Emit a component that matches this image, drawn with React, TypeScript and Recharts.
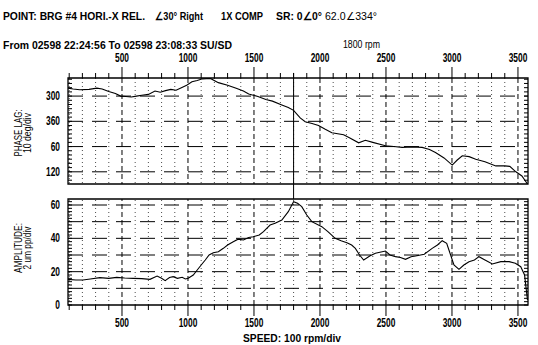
import React from "react";
import { LineChart, Line, XAxis, YAxis, ReferenceLine, ReferenceArea } from "recharts";

// phase lag vs speed (deg, continuous: 420 = 60, 480 = 120)
const phaseRpm = [
  90, 130, 180, 250, 310, 350, 400, 450, 490, 530, 570, 610, 650, 700, 750, 790, 830, 870, 910,
  950, 990, 1030, 1070, 1110, 1170, 1230, 1300, 1360, 1420, 1460, 1530, 1590, 1640, 1711, 1760,
  1800, 1850, 1888, 1940, 1989, 2040, 2090, 2179, 2230, 2293, 2344, 2400, 2496, 2560, 2622, 2700,
  2774, 2830, 2875, 2940, 3002, 3040, 3078, 3130, 3180, 3250, 3332, 3400, 3438, 3484, 3530, 3572
];
const phaseLag = [
  281, 283, 285, 284, 281, 283, 289, 294, 300, 301, 302, 300, 298, 296, 288, 291, 287, 284, 286,
  280, 274, 266, 263, 259, 258, 268, 274, 281, 288, 295, 301, 308, 312, 321, 327,
  334, 352, 361, 365, 370, 379, 387, 392, 400, 411, 405, 410, 418, 420, 422, 421,
  422, 427, 434, 447, 464, 452, 442, 444, 450, 456, 466, 466, 467, 480, 490, 509
];

// amplitude vs speed (um pp)
const ampRpm = [
  90, 150, 204, 260, 333, 400, 460, 520, 585, 650, 712, 766, 800, 827, 860, 888, 920, 956, 980,
  1002, 1040, 1070, 1100, 1131, 1160, 1192, 1230, 1268, 1300, 1343, 1380, 1420, 1460, 1495, 1540,
  1572, 1622, 1660, 1711, 1760, 1800, 1830, 1862, 1900, 1938, 2014, 2060, 2115, 2160, 2204, 2240,
  2268, 2300, 2331, 2380, 2420, 2496, 2530, 2572, 2610, 2648, 2690, 2724, 2790, 2850, 2890, 2926,
  2960, 2977, 3015, 3053, 3090, 3129, 3170, 3205, 3250, 3306, 3370, 3433, 3480, 3521, 3550, 3572
];
const amplitude = [
  15.4, 15, 15, 15.6, 16.4, 16, 16.6, 16.2, 16, 15.8, 15.4, 17.4, 16, 14.6, 16.5, 17, 16, 16.6, 15.6,
  16, 18, 21, 24, 27, 30, 31.4, 32, 34, 36, 38, 39.5, 39, 40.5, 41, 42,
  44, 48, 49, 51, 56, 62, 61, 59, 54, 50, 47, 44, 40, 38.5, 37.4, 36,
  34, 30, 27, 29.5, 31, 32.4, 30, 29, 28.5, 27.4, 29, 29.4, 30.5, 34, 36, 38.6,
  37, 33, 24, 21.4, 24, 26, 27, 29, 27, 24.6, 26, 26, 25, 23, 18, 3
];

const phaseMajor = [300, 360, 420, 480];
const phaseLabels = ["300", "360", "60", "120"];
const ampLabels = [0, 20, 40, 60];
const ampGrid = [10, 20, 30, 40, 50, 60];
const cursorRpm = 1800;

const rpmDomain = [91, 3576];
const phaseDomain = [257, 509];
const ampDomain = [0, 63.6];

const rpmTicks = Array.from({ length: 35 }, (_, i) => (i + 1) * 100);
const phaseTicks = Array.from({ length: 25 }, (_, i) => 260 + i * 10);
const ampTicks = Array.from({ length: 32 }, (_, i) => i * 2);

const phaseData = phaseRpm.map((rpm, i) => ({ rpm, v: phaseLag[i] }));
const ampData = ampRpm.map((rpm, i) => ({ rpm, v: amplitude[i] }));

const FONT = "'Liberation Sans', Arial, sans-serif";

// narrow bold digits for axis numbers
const Num = ({ x, y, anchor, children }: any) => (
  <text
    transform={`translate(${x},${y}) scale(0.7,1)`}
    textAnchor={anchor}
    fontFamily={FONT}
    fontWeight="bold"
    fontSize={12}
    fill="#000"
  >
    {children}
  </text>
);

const TopTick = (props: any) => {
  const { x, y, payload } = props;
  const major = payload.value % 500 === 0;
  return (
    <g>
      <line x1={x} x2={x} y1={y} y2={y - (major ? 11 : 5)} stroke="#000" />
      {major && (
        <Num x={x} y={y - 16} anchor="middle">
          {payload.value}
        </Num>
      )}
    </g>
  );
};

const BottomTick = (props: any) => {
  const { x, y, payload } = props;
  const major = payload.value % 500 === 0;
  return (
    <g>
      <line x1={x} x2={x} y1={y} y2={y + (major ? 11 : 5)} stroke="#000" />
      {major && (
        <Num x={x} y={y + 22} anchor="middle">
          {payload.value}
        </Num>
      )}
    </g>
  );
};

const makeLeftTick = (labelFor: (v: number) => string | null) => (props: any) => {
  const { x, y, payload } = props;
  const label = labelFor(payload.value);
  return (
    <g>
      <line x1={x} x2={x + 4} y1={y} y2={y} stroke="#000" />
      {label !== null && (
        <Num x={x - 8} y={y + 4} anchor="end">
          {label}
        </Num>
      )}
    </g>
  );
};

const RightTick = (props: any) => {
  const { x, y } = props;
  return <line x1={x} x2={x - 4} y1={y} y2={y} stroke="#000" />;
};

const PhaseTick = makeLeftTick((v) => {
  const i = phaseMajor.indexOf(v);
  return i >= 0 ? phaseLabels[i] : null;
});
const AmpTick = makeLeftTick((v) => (ampLabels.includes(v) ? String(v) : null));

const T = ({ x, y, w, bold = true, size = 11, anchor = "start", children }: any) => (
  <text
    x={x}
    y={y}
    textLength={w}
    lengthAdjust="spacingAndGlyphs"
    textAnchor={anchor}
    fontFamily={FONT}
    fontWeight={bold ? "bold" : "normal"}
    fontSize={size}
    fill="#000"
  >
    {children}
  </text>
);

const VLabel = ({ cx, cy, l1, w1, l2, w2 }: any) => (
  <g transform={`rotate(-90, ${cx}, ${cy})`}>
    <T x={cx} y={cy - 1} w={w1} anchor="middle" bold={false}>
      {l1}
    </T>
    <T x={cx} y={cy + 8} w={w2} anchor="middle" bold={false}>
      {l2}
    </T>
  </g>
);

export default function App() {
  return (
    <div style={{ position: "absolute", left: 0, top: 0, width: 538, height: 345, background: "#fff", overflow: "hidden" }}>
      <div style={{ position: "absolute", left: 0, top: 0 }}>
        <LineChart width={538} height={200} data={phaseData} margin={{ top: 0, right: 0, bottom: 16, left: 0 }}>
          <XAxis
            dataKey="rpm"
            type="number"
            orientation="top"
            domain={rpmDomain}
            allowDataOverflow
            ticks={rpmTicks}
            interval={0}
            height={78}
            tickSize={0}
            tickMargin={0}
            tickLine={false}
            axisLine={false}
            tick={TopTick}
          />
          <YAxis
            yAxisId="l"
            type="number"
            reversed
            domain={phaseDomain}
            allowDataOverflow
            ticks={phaseTicks}
            interval={0}
            width={68}
            tickSize={0}
            tickMargin={0}
            tickLine={false}
            axisLine={false}
            tick={PhaseTick}
          />
          <YAxis
            yAxisId="r"
            orientation="right"
            type="number"
            reversed
            domain={phaseDomain}
            allowDataOverflow
            ticks={phaseTicks}
            interval={0}
            width={10}
            tickSize={0}
            tickMargin={0}
            tickLine={false}
            axisLine={false}
            tick={RightTick}
          />
          {rpmTicks.map((r) => (
            <ReferenceLine
              key={"v" + r}
              yAxisId="l"
              x={r}
              stroke="#000"
              strokeDasharray={r % 500 === 0 ? "5 3" : "1 3"}
              strokeOpacity={r % 500 === 0 ? 1 : 0.7}
            />
          ))}
          {phaseMajor.map((p) => (
            <ReferenceLine key={"h" + p} yAxisId="l" y={p} stroke="#000" strokeDasharray="15 9" />
          ))}
          <ReferenceArea
            yAxisId="l"
            x1={rpmDomain[0]}
            x2={rpmDomain[1]}
            y1={phaseDomain[0]}
            y2={phaseDomain[1]}
            fill="none"
            stroke="#000"
            strokeWidth={1.3}
          />
          <ReferenceLine
            yAxisId="l"
            ifOverflow="visible"
            segment={[
              { x: cursorRpm, y: phaseDomain[0] - 12 },
              { x: cursorRpm, y: 545 }
            ]}
            stroke="#000"
          />
          <Line
            yAxisId="l"
            dataKey="v"
            type="linear"
            stroke="#000"
            strokeWidth={1.1}
            dot={false}
            isAnimationActive={false}
          />
        </LineChart>
      </div>

      <div style={{ position: "absolute", left: 0, top: 190 }}>
        <LineChart width={538} height={155} data={ampData} margin={{ top: 9, right: 0, bottom: 0, left: 0 }}>
          <XAxis
            dataKey="rpm"
            type="number"
            orientation="bottom"
            domain={rpmDomain}
            allowDataOverflow
            ticks={rpmTicks}
            interval={0}
            height={40}
            tickSize={0}
            tickMargin={0}
            tickLine={false}
            axisLine={false}
            tick={BottomTick}
          />
          <YAxis
            yAxisId="l"
            type="number"
            domain={ampDomain}
            allowDataOverflow
            ticks={ampTicks}
            interval={0}
            width={68}
            tickSize={0}
            tickMargin={0}
            tickLine={false}
            axisLine={false}
            tick={AmpTick}
          />
          <YAxis
            yAxisId="r"
            orientation="right"
            type="number"
            domain={ampDomain}
            allowDataOverflow
            ticks={ampTicks}
            interval={0}
            width={10}
            tickSize={0}
            tickMargin={0}
            tickLine={false}
            axisLine={false}
            tick={RightTick}
          />
          {rpmTicks.map((r) => (
            <ReferenceLine
              key={"v" + r}
              yAxisId="l"
              x={r}
              stroke="#000"
              strokeDasharray={r % 500 === 0 ? "5 3" : "1 3"}
              strokeOpacity={r % 500 === 0 ? 1 : 0.7}
            />
          ))}
          {ampGrid.map((a) => (
            <ReferenceLine key={"h" + a} yAxisId="l" y={a} stroke="#000" strokeDasharray="15 9" />
          ))}
          <ReferenceArea
            yAxisId="l"
            x1={rpmDomain[0]}
            x2={rpmDomain[1]}
            y1={ampDomain[0]}
            y2={ampDomain[1]}
            fill="none"
            stroke="#000"
            strokeWidth={1.3}
          />
          <Line
            yAxisId="l"
            dataKey="v"
            type="linear"
            stroke="#000"
            strokeWidth={1.1}
            dot={false}
            isAnimationActive={false}
          />
        </LineChart>
      </div>

      <svg width={538} height={345} style={{ position: "absolute", left: 0, top: 0, pointerEvents: "none" }}>
        <T x={3} y={20} w={142}>POINT: BRG #4 HORI.-X REL.</T>
        <T x={155} y={20} w={48}>{"\u222030\u00b0 Right"}</T>
        <T x={221} y={20} w={42}>1X COMP</T>
        <T x={276} y={20} w={46}>{"SR: 0\u22200\u00b0"}</T>
        <T x={325} y={20} w={52} bold={false}>{"62.0\u2220334\u00b0"}</T>
        <T x={3} y={49} w={229}>From 02598 22:24:56 To 02598 23:08:33 SU/SD</T>
        <T x={343} y={48} w={37} bold={false} size={10}>1800 rpm</T>
        <VLabel cx={23} cy={133} l1="PHASE LAG:" w1={47} l2="10 deg/div" w2={40} />
        <VLabel cx={23} cy={248} l1="AMPLITUDE:" w1={50} l2="2 um pp/div" w2={43} />
        <T x={292} y={342} w={98} anchor="middle">SPEED: 100 rpm/div</T>
      </svg>
    </div>
  );
}
